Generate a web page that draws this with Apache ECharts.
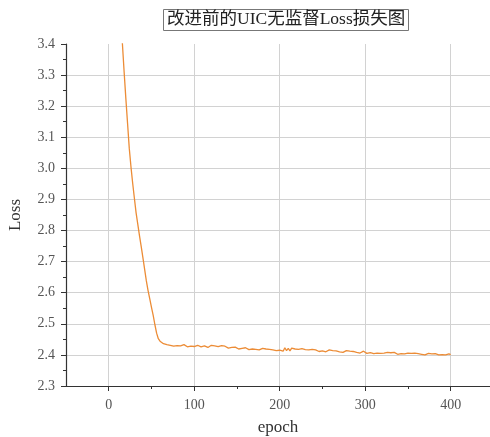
<!DOCTYPE html>
<html>
<head>
<meta charset="utf-8">
<script src="https://cdn.jsdelivr.net/npm/echarts@6/dist/echarts.min.js"></script>
<style>html,body{margin:0;padding:0;background:#fff}#c{width:490px;height:437px}</style>
</head>
<body>
<div id="c"></div>
<script>
const titleText = '改进前的UIC无监督Loss损失图';
const xName = 'epoch';
const yName = 'Loss';
const epochStart = 0;
const epochStep = 2;
const xMajorTicks = [0, 100, 200, 300, 400];
const xMinorTicks = [50, 150, 250, 350];
const lossValues = [
4.48,4.31,4.15,4.00,3.86,3.73,3.61,3.50,3.40,3.31,
3.225,3.145,3.065,3.005,2.952,2.904,2.857,2.820,2.783,2.748,
2.712,2.675,2.638,2.607,2.580,2.553,2.527,2.497,2.470,2.452,
2.444,2.441,2.436,2.439,2.433,2.434,2.431,2.436,2.428,2.432,
2.430,2.435,2.429,2.427,2.433,2.430,2.426,2.431,2.428,2.433,
2.427,2.425,2.431,2.434,2.426,2.421,2.429,2.432,2.424,2.428,
2.431,2.425,2.429,2.423,2.427,2.426,2.430,2.424,2.428,2.425,
2.422,2.427,2.424,2.421,2.425,2.423,2.419,2.424,2.421,2.418,
2.423,2.420,2.417,2.421,2.419,2.422,2.418,2.420,2.416,2.419,
2.421,2.417,2.419,2.415,2.418,2.420,2.416,2.418,2.414,2.417,
2.415,2.420,2.412,2.423,2.414,2.421,2.413,2.422,2.416,2.419,
2.414,2.418,2.416,2.420,2.415,2.417,2.413,2.416,2.414,2.418,
2.412,2.416,2.419,2.411,2.415,2.413,2.418,2.410,2.414,2.416,
2.411,2.414,2.409,2.413,2.415,2.410,2.413,2.408,2.412,2.414,
2.409,2.412,2.407,2.411,2.413,2.408,2.411,2.406,2.410,2.412,
2.408,2.405,2.411,2.407,2.409,2.404,2.410,2.406,2.408,2.405,
2.409,2.406,2.403,2.408,2.405,2.407,2.404,2.408,2.405,2.402,
2.406,2.404,2.407,2.403,2.405,2.406,2.402,2.405,2.403,2.406,
2.401,2.404,2.406,2.402,2.404,2.400,2.403,2.405,2.401,2.403,
2.399,2.404,2.402,2.400,2.403,2.401,2.404,2.400,2.402,2.403,
2.401
];

const seriesData = lossValues.map((v, i) => [epochStart + i * epochStep, v]);
const fontFam = "'Liberation Serif', 'DejaVu Serif', 'Noto Sans CJK SC', serif";

const chart = echarts.init(document.getElementById('c'), null, {renderer: 'canvas'});
chart.setOption({
  animation: false,
  backgroundColor: '#ffffff',
  title: {
    text: titleText,
    left: 163, top: 9,
    padding: [2, 4],
    borderColor: '#777', borderWidth: 1,
    textStyle: {fontFamily: fontFam, fontSize: 17.5, fontWeight: 'normal', color: '#222'}
  },
  grid: {left: 66, right: 0, top: 44, bottom: 51, containLabel: false, outerBoundsMode: 'none'},
  xAxis: [{
    type: 'value', min: -50, max: 446,
    name: xName, nameLocation: 'middle', nameGap: 33,
    nameTextStyle: {fontFamily: fontFam, fontSize: 17, color: '#333'},
    axisLine: {show: true, onZero: false, lineStyle: {color: '#333', width: 1.2}},
    axisTick: {show: true, length: 5, customValues: xMajorTicks, lineStyle: {color: '#333'}},
    axisLabel: {customValues: xMajorTicks, margin: 12, fontFamily: fontFam, fontSize: 14, color: '#555'},
    splitLine: {show: true, lineStyle: {color: '#d2d2d2', width: 1}}
  }, {
    type: 'value', min: -50, max: 446, position: 'bottom',
    axisLine: {show: false, onZero: false},
    axisTick: {show: true, length: 3, customValues: xMinorTicks, lineStyle: {color: '#333'}},
    axisLabel: {show: false},
    splitLine: {show: false}
  }],
  yAxis: {
    type: 'value', min: 2.3, max: 3.4, interval: 0.1,
    name: yName, nameLocation: 'middle', nameGap: 42, nameRotate: 90,
    nameTextStyle: {fontFamily: fontFam, fontSize: 17, color: '#333'},
    axisLine: {show: true, onZero: false, lineStyle: {color: '#333', width: 1.2}},
    axisTick: {show: true, length: 5, lineStyle: {color: '#333'}},
    minorTick: {show: true, splitNumber: 2, length: 3, lineStyle: {color: '#333'}},
    axisLabel: {margin: 11, fontFamily: fontFam, fontSize: 14, color: '#555', formatter: v => v.toFixed(1)},
    splitLine: {show: true, showMaxLine: false, showMinLine: false, lineStyle: {color: '#d2d2d2', width: 1}}
  },
  series: [{
    type: 'line', xAxisIndex: 0, data: seriesData,
    showSymbol: false, symbol: 'none', clip: true,
    lineStyle: {color: '#ec8c36', width: 1.3}
  }]
});
</script>
</body>
</html>
